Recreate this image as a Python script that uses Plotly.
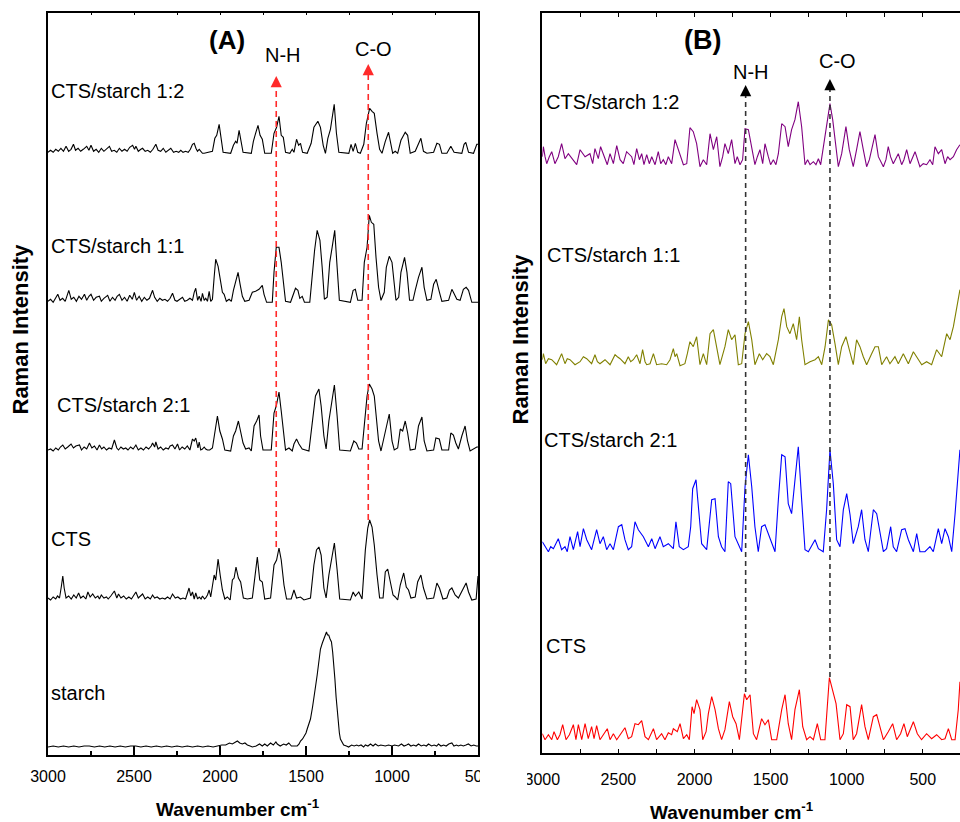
import plotly.graph_objects as go

# ---------------- Panel A data (wavenumber, height above own baseline) ----------------
A_cts_starch_12 = [
    (3000, 1), (2985, 3), (2970, 1), (2955, 4), (2940, 2), (2925, 5), (2910, 2), (2895, 7), (2880, 2), (2866, 4),
    (2852, 9), (2840, 3), (2825, 5), (2810, 2), (2795, 4), (2775, 7), (2762, 3), (2750, 8), (2735, 2), (2720, 4),
    (2705, 1), (2690, 5), (2675, 2), (2660, 4), (2643, 7), (2630, 2), (2615, 3), (2600, 1), (2585, 5), (2570, 2),
    (2555, 4), (2540, 2), (2525, 6), (2508, 8), (2497, 4), (2489, 7), (2475, 2), (2460, 4), (2450, 5), (2435, 2),
    (2420, 3), (2405, 1), (2390, 4), (2373, 9), (2360, 3), (2345, 2), (2330, 5), (2315, 1), (2300, 3), (2286, 5),
    (2270, 1), (2255, 2), (2240, 1), (2228, 3), (2215, 1), (2200, 2), (2185, 1), (2172, 4), (2160, 9), (2150, 10),
    (2140, 5), (2131, 2), (2121, 4), (2102, 0), (2092, 0), (2044, 2), (2030, 15), (2019, 18), (2005, 29), (1996, 18),
    (1982, 1), (1938, 0), (1922, 8), (1909, 12), (1901, 10), (1889, 23), (1880, 14), (1866, 1), (1818, 0), (1806, 12),
    (1793, 20), (1779, 28), (1767, 18), (1754, 14), (1740, 0), (1702, 0), (1686, 20), (1671, 26), (1657, 37), (1644, 18),
    (1632, 16), (1619, 1), (1594, 0), (1580, 4), (1570, 1), (1555, 14), (1543, 8), (1532, 10), (1520, 1), (1493, 0),
    (1470, 10), (1454, 26), (1431, 32), (1416, 26), (1400, 8), (1387, 0), (1373, 15), (1358, 24), (1336, 49), (1323, 20),
    (1309, 1), (1251, 0), (1238, 9), (1226, 2), (1213, 10), (1199, 1), (1184, 0), (1164, 9), (1149, 30), (1130, 45),
    (1116, 42), (1103, 40), (1087, 20), (1072, 4), (1058, 0), (1039, 12), (1020, 21), (1010, 13), (996, 0), (981, 2),
    (967, 0), (948, 13), (923, 21), (909, 18), (894, 0), (865, 2), (846, 10), (832, 15), (817, 2), (797, 0),
    (758, 1), (739, 10), (724, 9), (710, 0), (681, 0), (658, 7), (639, 1), (594, 0), (581, 9), (571, 11),
    (555, 1), (526, 0), (507, 9), (500, 9),
]

A_cts_starch_11 = [
    (3000, 1), (2985, 3), (2970, 0), (2955, 4), (2943, 8), (2930, 2), (2915, 4), (2900, 1), (2890, 6), (2879, 12),
    (2865, 3), (2850, 5), (2835, 1), (2820, 6), (2805, 3), (2788, 8), (2775, 2), (2762, 6), (2750, 8), (2735, 2),
    (2720, 5), (2701, 6), (2690, 1), (2675, 4), (2653, 7), (2640, 1), (2625, 5), (2610, 2), (2598, 6), (2585, 8),
    (2570, 2), (2555, 5), (2540, 1), (2525, 7), (2510, 3), (2498, 10), (2485, 2), (2470, 6), (2455, 1), (2440, 5),
    (2425, 2), (2410, 4), (2392, 12), (2380, 5), (2365, 1), (2350, 4), (2335, 2), (2320, 3), (2305, 1), (2290, 4),
    (2276, 9), (2262, 2), (2250, 1), (2235, 3), (2218, 5), (2205, 1), (2190, 2), (2175, 4), (2160, 2), (2150, 10),
    (2141, 14), (2130, 2), (2121, 6), (2110, 1), (2102, 9), (2092, 2), (2083, 4), (2073, 1), (2063, 11), (2054, 1),
    (2044, 3), (2034, 25), (2025, 43), (2011, 36), (1999, 22), (1986, 10), (1976, 8), (1963, 1), (1947, 3), (1934, 1),
    (1922, 12), (1909, 22), (1895, 30), (1883, 18), (1870, 6), (1856, 1), (1831, 2), (1812, 10), (1793, 11), (1773, 13),
    (1754, 17), (1744, 8), (1729, 0), (1696, 0), (1686, 30), (1673, 55), (1657, 55), (1644, 40), (1632, 20), (1619, 1),
    (1590, 0), (1574, 8), (1561, 14), (1547, 12), (1536, 4), (1522, 6), (1509, 0), (1478, 0), (1464, 30), (1450, 52),
    (1435, 72), (1419, 62), (1406, 35), (1393, 3), (1377, 5), (1362, 40), (1348, 55), (1333, 72), (1319, 35), (1306, 2),
    (1242, 0), (1226, 12), (1213, 13), (1199, 2), (1174, 2), (1161, 40), (1145, 55), (1132, 87), (1120, 80), (1106, 78),
    (1093, 45), (1078, 15), (1064, 2), (1045, 10), (1033, 35), (1016, 46), (1000, 40), (990, 20), (977, 2), (961, 5),
    (948, 30), (927, 45), (913, 30), (898, 2), (878, 2), (865, 12), (846, 25), (826, 35), (813, 15), (797, 2),
    (774, 3), (758, 18), (743, 23), (724, 10), (710, 1), (671, 2), (652, 13), (643, 10), (623, 3), (604, 2),
    (585, 13), (569, 15), (555, 12), (536, 0), (507, 0), (500, 0),
]

A_cts_starch_21 = [
    (3000, 1), (2985, 2), (2970, 0), (2955, 3), (2940, 1), (2928, 4), (2914, 6), (2900, 2), (2885, 4), (2866, 7),
    (2852, 3), (2838, 5), (2817, 6), (2805, 1), (2790, 4), (2775, 2), (2759, 8), (2745, 3), (2730, 5), (2715, 1),
    (2701, 6), (2688, 2), (2675, 4), (2660, 1), (2645, 3), (2630, 2), (2614, 11), (2600, 3), (2590, 1), (2576, 4),
    (2562, 2), (2548, 3), (2535, 1), (2520, 4), (2505, 2), (2489, 6), (2475, 1), (2460, 3), (2445, 1), (2430, 4),
    (2415, 2), (2400, 5), (2392, 8), (2380, 4), (2373, 9), (2360, 2), (2345, 4), (2330, 1), (2315, 3), (2300, 2),
    (2290, 5), (2276, 6), (2262, 2), (2247, 7), (2235, 1), (2220, 4), (2205, 2), (2190, 5), (2175, 1), (2160, 12),
    (2150, 10), (2141, 13), (2128, 3), (2121, 9), (2112, 1), (2102, 2), (2092, 4), (2083, 2), (2073, 1), (2060, 1),
    (2044, 3), (2030, 17), (2015, 35), (2001, 20), (1986, 12), (1972, 1), (1938, 0), (1922, 15), (1909, 20), (1893, 30),
    (1880, 18), (1866, 8), (1851, 2), (1831, 3), (1818, 0), (1802, 25), (1787, 30), (1773, 36), (1764, 15), (1750, 1),
    (1702, 1), (1686, 38), (1673, 45), (1657, 59), (1644, 40), (1632, 20), (1619, 1), (1599, 3), (1580, 0), (1570, 7),
    (1555, 12), (1541, 7), (1522, 2), (1483, 0), (1464, 30), (1445, 55), (1425, 62), (1412, 45), (1396, 15), (1383, 2),
    (1367, 30), (1352, 45), (1335, 66), (1319, 35), (1304, 1), (1242, 0), (1222, 10), (1207, 8), (1193, 2), (1174, 2),
    (1161, 30), (1145, 55), (1132, 67), (1116, 62), (1103, 55), (1091, 30), (1078, 10), (1064, 0), (1045, 15), (1029, 30),
    (1016, 37), (1000, 10), (987, 1), (967, 3), (952, 22), (938, 20), (923, 30), (909, 18), (894, 1), (865, 2),
    (846, 25), (826, 34), (813, 10), (797, 0), (758, 1), (745, 13), (725, 12), (710, 1), (671, 1), (658, 18),
    (643, 16), (629, 8), (614, 2), (594, 15), (575, 25), (561, 10), (546, 0), (507, 4), (500, 4),
]

A_cts = [
    (3000, 2), (2985, 0), (2970, 3), (2955, 1), (2945, 4), (2933, 2), (2922, 14), (2914, 24), (2906, 12), (2895, 2),
    (2880, 4), (2865, 1), (2850, 5), (2836, 2), (2822, 7), (2810, 2), (2795, 4), (2780, 1), (2768, 8), (2755, 3),
    (2740, 6), (2725, 2), (2710, 4), (2701, 1), (2690, 5), (2675, 2), (2660, 3), (2650, 1), (2635, 4), (2614, 9),
    (2600, 2), (2590, 6), (2576, 2), (2560, 4), (2545, 1), (2530, 3), (2515, 1), (2500, 5), (2489, 8), (2475, 2),
    (2460, 4), (2450, 6), (2435, 1), (2420, 3), (2405, 1), (2392, 5), (2380, 2), (2365, 3), (2350, 1), (2335, 2),
    (2320, 1), (2305, 3), (2290, 1), (2276, 6), (2260, 2), (2245, 3), (2230, 1), (2215, 2), (2200, 1), (2180, 12),
    (2170, 4), (2160, 8), (2150, 1), (2141, 7), (2130, 1), (2121, 3), (2110, 1), (2102, 4), (2090, 1), (2083, 2),
    (2073, 5), (2063, 10), (2054, 3), (2034, 25), (2025, 20), (2011, 41), (1999, 25), (1986, 10), (1972, 1), (1957, 3),
    (1941, 0), (1928, 20), (1918, 22), (1907, 33), (1893, 22), (1880, 18), (1864, 2), (1841, 1), (1812, 2), (1798, 25),
    (1783, 43), (1769, 20), (1754, 18), (1740, 1), (1706, 2), (1686, 35), (1671, 40), (1657, 52), (1644, 40), (1628, 15),
    (1613, 1), (1586, 1), (1570, 10), (1555, 2), (1532, 3), (1512, 0), (1474, 2), (1454, 35), (1439, 50), (1425, 53),
    (1412, 45), (1396, 12), (1383, 2), (1367, 25), (1352, 40), (1335, 57), (1319, 30), (1304, 1), (1242, 0), (1226, 8),
    (1213, 4), (1193, 8), (1174, 1), (1155, 50), (1141, 72), (1130, 80), (1116, 73), (1103, 55), (1087, 25), (1072, 2),
    (1052, 2), (1039, 28), (1025, 31), (1010, 18), (994, 5), (981, 3), (967, 0), (952, 15), (932, 27), (917, 13),
    (904, 10), (890, 2), (865, 3), (851, 18), (832, 25), (817, 12), (797, 1), (758, 2), (739, 17), (724, 12),
    (704, 1), (681, 2), (666, 10), (652, 12), (633, 5), (614, 2), (594, 8), (569, 17), (555, 8), (536, 0),
    (511, 1), (503, 24), (500, 24),
]

A_starch = [
    (3000, 0), (2970, 1), (2940, 0), (2910, 1), (2880, 0), (2850, 1), (2820, 0), (2790, 1), (2760, 1), (2730, 0),
    (2700, 1), (2670, 0), (2640, 1), (2610, 0), (2580, 1), (2550, 0), (2520, 1), (2490, 1), (2460, 0), (2430, 1),
    (2400, 0), (2370, 1), (2340, 0), (2310, 1), (2280, 0), (2250, 1), (2220, 0), (2190, 1), (2160, 0), (2130, 1),
    (2100, 0), (2070, 1), (2040, 0), (2010, 1), (1990, 2), (1967, 2), (1945, 4), (1928, 3), (1910, 5), (1899, 6),
    (1885, 4), (1870, 3), (1855, 4), (1841, 2), (1825, 1), (1812, 0), (1790, 1), (1770, 3), (1754, 1), (1740, 3),
    (1725, 1), (1706, 4), (1690, 2), (1675, 5), (1667, 3), (1650, 1), (1630, 3), (1615, 2), (1600, 4), (1585, 1),
    (1565, 1), (1551, 1), (1540, 3), (1532, 6), (1520, 8), (1512, 10), (1500, 14), (1493, 18), (1480, 24), (1474, 28),
    (1462, 40), (1455, 50), (1445, 60), (1435, 72), (1425, 86), (1416, 98), (1405, 104), (1397, 108), (1388, 112), (1381, 115),
    (1375, 112), (1368, 112), (1360, 108), (1352, 105), (1345, 95), (1339, 85), (1332, 68), (1325, 50), (1318, 35), (1313, 25),
    (1306, 14), (1300, 8), (1290, 4), (1281, 2), (1265, 1), (1252, 0), (1235, 2), (1220, 1), (1205, 2), (1194, 1),
    (1180, 2), (1165, 0), (1155, 2), (1140, 1), (1125, 3), (1110, 1), (1097, 3), (1080, 1), (1065, 2), (1050, 1),
    (1039, 1), (1020, 2), (1000, 1), (985, 2), (962, 1), (945, 3), (930, 1), (915, 2), (904, 3), (890, 1),
    (875, 2), (860, 1), (846, 3), (830, 1), (815, 2), (800, 1), (788, 3), (770, 1), (755, 2), (740, 1),
    (730, 3), (715, 1), (700, 2), (685, 1), (670, 3), (652, 4), (640, 1), (625, 2), (614, 1), (600, 2),
    (585, 1), (570, 2), (556, 3), (540, 1), (525, 2), (510, 1), (500, 1),
]

# ---------------- Panel B data ----------------
B_cts_starch_12 = [
    (3000, 10), (2993, 20), (2982, 10), (2971, 3), (2954, 10), (2938, 15), (2917, 3), (2895, 10), (2873, 23), (2851, 8),
    (2829, 13), (2796, 7), (2774, 2), (2752, 17), (2719, 10), (2687, 13), (2669, 3), (2654, 18), (2632, 8), (2617, 20),
    (2588, 7), (2573, 2), (2555, 13), (2533, 3), (2511, 21), (2489, 7), (2468, 3), (2446, 15), (2413, 10), (2398, 2),
    (2380, 18), (2362, 7), (2347, 13), (2332, 2), (2314, 12), (2297, 3), (2281, 10), (2259, 2), (2238, 15), (2222, 3),
    (2205, 7), (2188, 2), (2172, 10), (2150, 3), (2128, 27), (2106, 17), (2089, 10), (2073, 2), (2051, 3), (2030, 39),
    (2008, 35), (1986, 23), (1964, 0), (1942, 7), (1920, 2), (1898, 33), (1876, 17), (1854, 30), (1833, 0), (1815, 10),
    (1800, 23), (1778, 13), (1756, 27), (1734, 3), (1719, 10), (1701, 2), (1684, 7), (1668, 38), (1646, 37), (1624, 20),
    (1603, 2), (1587, 10), (1570, 17), (1552, 3), (1537, 23), (1515, 10), (1500, 2), (1482, 7), (1465, 2), (1449, 13),
    (1427, 43), (1405, 40), (1384, 20), (1362, 37), (1340, 47), (1318, 65), (1296, 40), (1274, 2), (1257, 7), (1241, 2),
    (1219, 5), (1202, 2), (1186, 8), (1171, 2), (1154, 18), (1132, 43), (1110, 63), (1092, 47), (1077, 27), (1055, 0),
    (1033, 13), (1005, 40), (983, 17), (957, 0), (935, 17), (913, 35), (891, 17), (869, 0), (851, 7), (836, 17),
    (814, 32), (792, 10), (759, 0), (742, 7), (727, 20), (712, 10), (694, 3), (661, 13), (639, 2), (624, 7),
    (606, 17), (584, 3), (551, 15), (519, 0), (497, 3), (475, 2), (453, 7), (435, 2), (420, 20), (398, 13),
    (376, 17), (354, 3), (337, 10), (321, 7), (299, 10), (278, 17), (256, 22),
]

B_cts_starch_11 = [
    (3000, 6), (2993, 12), (2978, 2), (2960, 7), (2938, 6), (2906, 1), (2888, 7), (2873, 12), (2851, 2), (2836, 7),
    (2818, 6), (2785, 1), (2752, 4), (2730, 9), (2708, 7), (2676, 2), (2654, 11), (2638, 4), (2621, 2), (2588, 6),
    (2555, 1), (2522, 11), (2507, 9), (2489, 7), (2457, 2), (2435, 9), (2419, 4), (2402, 6), (2380, 11), (2358, 2),
    (2341, 16), (2325, 4), (2314, 1), (2292, 2), (2270, 12), (2249, 1), (2216, 2), (2183, 1), (2161, 6), (2150, 11),
    (2139, 17), (2128, 9), (2117, 12), (2095, 0), (2063, 2), (2047, 12), (2030, 24), (2008, 19), (1986, 29), (1964, 1),
    (1942, 12), (1920, 1), (1898, 32), (1876, 36), (1854, 19), (1833, 1), (1800, 19), (1778, 36), (1756, 26), (1734, 31),
    (1712, 1), (1690, 2), (1668, 32), (1646, 44), (1624, 26), (1603, 1), (1574, 12), (1552, 6), (1526, 12), (1504, 9),
    (1482, 1), (1449, 26), (1427, 49), (1412, 57), (1394, 39), (1373, 32), (1351, 42), (1329, 26), (1311, 49), (1296, 26),
    (1274, 1), (1241, 4), (1208, 6), (1186, 9), (1164, 1), (1142, 19), (1120, 46), (1099, 41), (1077, 22), (1055, 1),
    (1033, 19), (1005, 29), (983, 16), (957, 1), (935, 26), (913, 19), (891, 9), (869, 1), (836, 12), (814, 19),
    (792, 19), (770, 1), (738, 9), (716, 2), (683, 9), (661, 2), (628, 12), (595, 2), (562, 14), (540, 9),
    (507, 1), (475, 4), (442, 1), (409, 16), (376, 9), (343, 32), (321, 26), (299, 39), (278, 59), (256, 76),
]

B_cts_starch_21 = [
    (3000, 10), (2982, 5), (2960, 0), (2945, 5), (2927, 3), (2895, 13), (2873, 2), (2851, 5), (2836, 0), (2818, 15),
    (2796, 2), (2768, 20), (2752, 5), (2730, 23), (2708, 12), (2676, 2), (2643, 22), (2621, 8), (2599, 15), (2577, 2),
    (2555, 8), (2533, 2), (2500, 25), (2478, 27), (2457, 12), (2435, 2), (2413, 5), (2391, 30), (2369, 22), (2336, 15),
    (2303, 5), (2281, 13), (2259, 3), (2227, 15), (2205, 5), (2172, 8), (2139, 3), (2122, 30), (2100, 5), (2073, 2),
    (2041, 5), (2025, 25), (2012, 63), (1990, 72), (1975, 42), (1953, 8), (1920, 2), (1898, 35), (1887, 52), (1865, 53),
    (1843, 15), (1822, 5), (1800, 0), (1778, 70), (1762, 68), (1734, 15), (1712, 8), (1690, 0), (1668, 65), (1646, 97),
    (1624, 65), (1603, 25), (1581, 0), (1559, 25), (1537, 27), (1515, 18), (1493, 7), (1471, 0), (1449, 52), (1427, 97),
    (1405, 95), (1384, 48), (1362, 38), (1340, 75), (1318, 105), (1296, 52), (1274, 2), (1252, 0), (1208, 12), (1186, 3),
    (1154, 0), (1132, 42), (1110, 102), (1088, 68), (1066, 12), (1044, 5), (1022, 42), (1000, 58), (978, 37), (957, 8),
    (924, 25), (902, 42), (880, 12), (858, 0), (825, 42), (803, 38), (781, 18), (759, 0), (738, 3), (711, 25),
    (694, 5), (672, 0), (639, 22), (617, 23), (595, 12), (562, 0), (540, 18), (519, 0), (486, 0), (453, 5),
    (431, 0), (398, 23), (376, 8), (354, 23), (332, 15), (310, 0), (288, 38), (256, 102),
]

B_cts = [
    (3000, 8), (2982, 2), (2960, 7), (2938, 2), (2923, 10), (2901, 2), (2884, 7), (2866, 17), (2844, 2), (2822, 7),
    (2796, 17), (2779, 2), (2763, 17), (2741, 2), (2719, 18), (2698, 3), (2676, 15), (2660, 3), (2643, 16), (2621, 2),
    (2599, 7), (2573, 13), (2555, 2), (2533, 8), (2511, 2), (2489, 7), (2457, 14), (2435, 3), (2413, 5), (2391, 18),
    (2369, 17), (2347, 21), (2325, 5), (2303, 2), (2270, 13), (2249, 2), (2216, 8), (2194, 2), (2172, 9), (2150, 7),
    (2139, 13), (2113, 10), (2095, 18), (2073, 3), (2051, 7), (2034, 2), (2016, 35), (2003, 28), (1986, 42), (1964, 32),
    (1946, 2), (1924, 10), (1909, 28), (1887, 45), (1865, 32), (1843, 13), (1822, 2), (1800, 12), (1771, 40), (1749, 25),
    (1727, 18), (1705, 2), (1672, 48), (1657, 42), (1635, 47), (1613, 8), (1592, 2), (1559, 23), (1537, 17), (1515, 22),
    (1493, 2), (1460, 2), (1427, 32), (1405, 47), (1384, 18), (1362, 2), (1340, 32), (1311, 52), (1289, 15), (1263, 2),
    (1241, 5), (1219, 2), (1193, 18), (1171, 2), (1143, 2), (1114, 64), (1092, 50), (1070, 38), (1044, 2), (1022, 8),
    (1000, 37), (978, 35), (957, 2), (935, 8), (902, 37), (880, 15), (858, 2), (825, 25), (803, 27), (781, 15),
    (759, 2), (727, 10), (698, 18), (672, 2), (646, 8), (624, 18), (602, 5), (562, 20), (536, 8), (508, 2),
    (475, 8), (442, 3), (409, 7), (376, 2), (354, 3), (332, 13), (310, 2), (288, 2), (267, 32), (256, 60),
]

A_names = ["CTS/starch 1:2", "CTS/starch 1:1", "CTS/starch 2:1", "CTS", "starch"]
A_series = [A_cts_starch_12, A_cts_starch_11, A_cts_starch_21, A_cts, A_starch]
A_offsets = [601.7, 452.7, 304.0, 155.0, 8.0]

B_names = ["CTS/starch 1:2", "CTS/starch 1:1", "CTS/starch 2:1", "CTS"]
B_series = [B_cts_starch_12, B_cts_starch_11, B_cts_starch_21, B_cts]
B_offsets = [586.6, 387.6, 201.6, 11.6]
B_colors = ["#800080", "#808000", "#0000ff", "#ff0000"]

# band markers: (label, wavenumber)
A_bands = [("N-H", 1673), ("C-O", 1138)]
B_bands = [("N-H", 1664), ("C-O", 1110)]

W, H = 960, 822
FONT = "Liberation Sans, Arial, sans-serif"


def px(x):
    return x / W


def py(y):
    return 1 - y / H


fig = go.Figure()

for name, data, off in zip(A_names, A_series, A_offsets):
    fig.add_trace(go.Scatter(
        x=[d[0] for d in data], y=[d[1] + off for d in data], mode="lines", name=name,
        line=dict(color="black", width=1.1), xaxis="x", yaxis="y", hoverinfo="skip"))

for name, data, off, col in zip(B_names, B_series, B_offsets, B_colors):
    fig.add_trace(go.Scatter(
        x=[d[0] for d in data], y=[d[1] + off for d in data], mode="lines", name=name,
        line=dict(color=col, width=1.1), xaxis="x2", yaxis="y2", hoverinfo="skip"))

# dummy traces so the top overlay axes exist
fig.add_trace(go.Scatter(x=[3000], y=[0], xaxis="x3", yaxis="y", mode="markers",
                         marker=dict(opacity=0), hoverinfo="skip"))
fig.add_trace(go.Scatter(x=[3000], y=[0], xaxis="x4", yaxis="y2", mode="markers",
                         marker=dict(opacity=0), hoverinfo="skip"))

axis_common = dict(showgrid=False, zeroline=False, showline=True, linecolor="black", linewidth=1.5,
                   automargin=False)

fig.update_layout(
    width=W, height=H, margin=dict(l=0, r=0, t=0, b=0, pad=0, autoexpand=False),
    paper_bgcolor="white", plot_bgcolor="white", showlegend=False,
    font=dict(family=FONT, color="black"),
    xaxis=dict(domain=[px(48), px(478)], range=[3000, 500], anchor="y", dtick=500, tick0=0,
               ticks="inside", ticklen=9, tickwidth=1.5, tickcolor="black",
               minor=dict(dtick=250, ticks="inside", ticklen=4, tickwidth=1.5, tickcolor="black"),
               tickfont=dict(size=16, family=FONT, color="black"), ticklabelstandoff=6, **axis_common),
    xaxis3=dict(overlaying="x", side="top", range=[3000, 500], anchor="y", dtick=250, tick0=0,
                ticks="inside", ticklen=3, tickwidth=1.2, tickcolor="black", showticklabels=False,
                **axis_common),
    yaxis=dict(domain=[py(755), py(12.7)], range=[0, 742.3], anchor="x", mirror=True,
               ticks="", showticklabels=False, **axis_common),
    xaxis2=dict(domain=[px(542.3), 1.0], range=[3000, 255.6], anchor="y2", dtick=500, tick0=0,
                ticks="inside", ticklen=5, tickwidth=1.2, tickcolor="black",
                minor=dict(dtick=250, ticks="inside", ticklen=5, tickwidth=1.2, tickcolor="black"),
                tickfont=dict(size=16, family=FONT, color="black"), ticklabelstandoff=11, **axis_common),
    xaxis4=dict(overlaying="x2", side="top", range=[3000, 255.6], anchor="y2", dtick=250, tick0=0,
                ticks="inside", ticklen=4, tickwidth=1.2, tickcolor="black", showticklabels=False,
                **axis_common),
    yaxis2=dict(domain=[py(753.3), py(13.3)], range=[0, 740], anchor="x2",
                ticks="", showticklabels=False, **axis_common),
)

shapes = []
annotations = []

# dashed marker lines with arrowheads
A_arrow_span = {"N-H": (208, 679), "C-O": (235, 691)}
B_arrow_span = {"N-H": (61.3, 668.3), "C-O": (76.3, 674.3)}
for lab, wn in A_bands:
    y0, y1 = A_arrow_span[lab]
    shapes.append(dict(type="line", xref="x", yref="y", x0=wn, x1=wn, y0=y0, y1=y1 - 6,
                       line=dict(color="#ff2a2a", width=1.6, dash="6px,4px")))
    annotations.append(dict(xref="x", yref="y", axref="x", ayref="y", x=wn, y=y1, ax=wn, ay=y1 - 10,
                            text="", showarrow=True, arrowhead=2, arrowsize=1.4, arrowwidth=1.6,
                            arrowcolor="#ff2a2a", standoff=0, startstandoff=0))
for lab, wn in B_bands:
    y0, y1 = B_arrow_span[lab]
    shapes.append(dict(type="line", xref="x2", yref="y2", x0=wn, x1=wn, y0=y0, y1=y1 - 6,
                       line=dict(color="#333333", width=1.6, dash="5px,4px")))
    annotations.append(dict(xref="x2", yref="y2", axref="x2", ayref="y2", x=wn, y=y1, ax=wn, ay=y1 - 10,
                            text="", showarrow=True, arrowhead=2, arrowsize=1.4, arrowwidth=1.6,
                            arrowcolor="black", standoff=0, startstandoff=0))

# hide the part of panel A's last tick label that was cropped in the source
shapes.append(dict(type="rect", xref="paper", yref="paper", x0=px(480), x1=px(527), y0=0, y1=py(757),
                   fillcolor="white", line=dict(width=0), layer="above"))


def label(text, x, y, size=20, anchor="left", bold=False, angle=0):
    t = f"<b>{text}</b>" if bold else text
    annotations.append(dict(xref="paper", yref="paper", x=px(x), y=py(y), text=t, showarrow=False,
                            xanchor=anchor, yanchor="middle", textangle=angle,
                            font=dict(size=size, family=FONT, color="black")))


# panel A text
label("(A)", 226.5, 40, size=26, anchor="center", bold=True)
label("N-H", 282.5, 55, anchor="center")
label("C-O", 373.5, 49, anchor="center")
A_label_pos = [(49, 90.5), (49, 246), (55, 405), (49, 539), (49, 692.5)]
for name, (x, y) in zip(A_names, A_label_pos):
    label(name, x, y)
label("Raman Intensity", 19.5, 329, size=22, anchor="center", bold=True, angle=-90)
label("Wavenumber cm<sup>-1</sup>", 238, 808, size=19, anchor="center", bold=True)

# panel B text
label("(B)", 702.5, 40, size=27, anchor="center", bold=True)
label("N-H", 750.5, 72, anchor="center")
label("C-O", 837.5, 61, anchor="center")
B_label_pos = [(543.5, 102.5), (545, 255), (542, 440), (543.5, 646)]
for name, (x, y) in zip(B_names, B_label_pos):
    label(name, x, y)
label("Raman Intensity", 519.5, 339, size=22, anchor="center", bold=True, angle=-90)
label("Wavenumber cm<sup>-1</sup>", 732, 811, size=19, anchor="center", bold=True)

fig.update_layout(shapes=shapes, annotations=annotations)
fig.write_html(
    "out.html",
    config={"displayModeBar": False},
    post_script="document.body.style.margin='0';document.body.style.overflow='hidden';",
)
